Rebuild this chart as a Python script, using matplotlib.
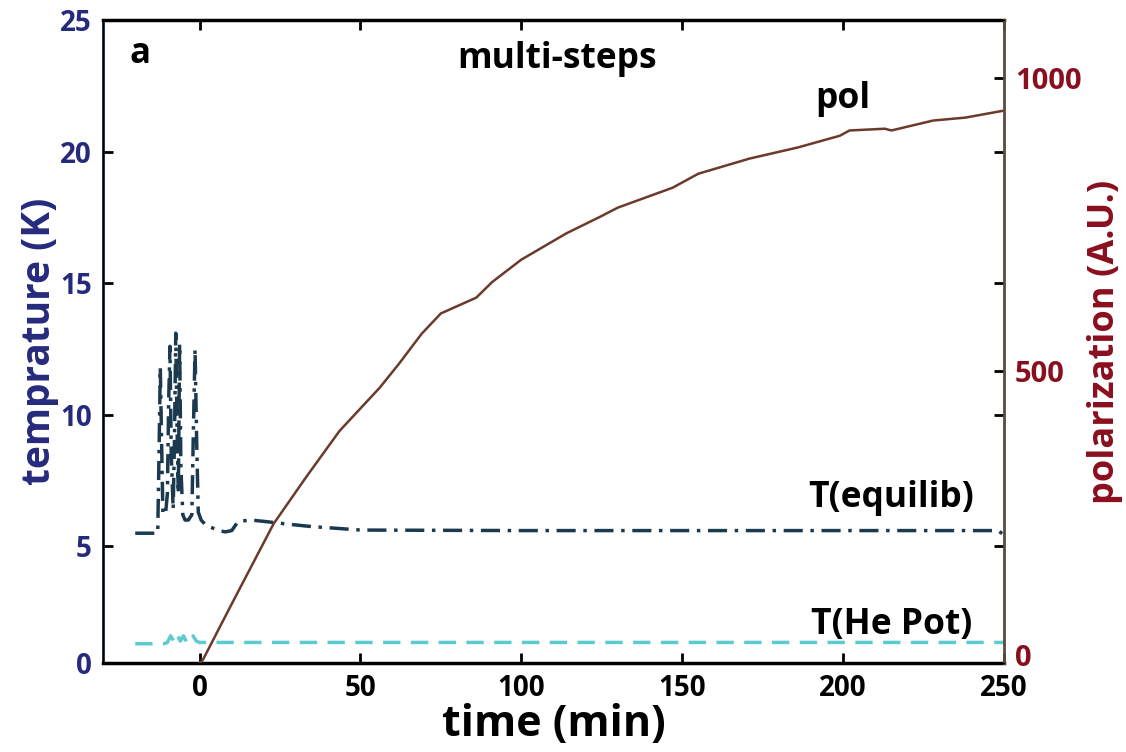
import matplotlib
matplotlib.use("Agg")
import matplotlib.pyplot as plt
import matplotlib.transforms as mtransforms

plt.rcParams['font.family'] = ['Open Sans', 'DejaVu Sans']
plt.rcParams['font.weight'] = 'bold'

# T(equilib) trace, K
teq_time = [-20, -13, -12.6, -12.2, -11.8, -11.4, -10.6, -10, -9.6, -9.2, -8.8, -8.2,
            -7.8, -7.4, -7, -6.6, -6.2, -5.8, -5.2, -4.5, -3.5, -2.4, -1.9, -1.4, -0.9,
            -0.4, 0.5, 2, 4, 6, 8, 10, 12, 16, 20, 27, 35, 41, 50, 100, 150, 200, 248, 250]
teq_temp = [5.5, 5.5, 8.5, 11.8, 9.0, 6.3, 6.2, 7.0, 10.5, 12.6, 8.5, 6.4,
            9.0, 13.1, 9.5, 7.0, 12.7, 8.0, 6.2, 6.0, 6.0, 6.2, 9.5, 12.5, 9.0,
            6.3, 6.0, 5.8, 5.7, 5.6, 5.55, 5.6, 5.95, 6.0, 5.95, 5.85, 5.75, 5.7, 5.62,
            5.6, 5.6, 5.6, 5.6, 5.45]

# T(He Pot) trace, K
the_time = [-20, -11, -10, -9, -8, -7, -6, -5, -4, -3, -2, -1, 0, 1, 250]
the_temp = [1.3, 1.3, 1.35, 1.6, 1.4, 1.65, 1.4, 1.6, 1.35, 1.35, 1.6, 1.4, 1.35, 1.35, 1.35]

# polarization, A.U.
pol_time = [0, 1, 10, 23, 33, 43.5, 56, 62, 69, 75, 86, 91, 100, 114, 124, 130,
            147, 155, 171, 186, 199, 202, 213, 215, 228, 238, 250]
pol_val = [0, 5, 101, 238, 317, 397, 471, 512, 563, 598, 625, 652, 690, 735, 762, 779,
           813, 837, 863, 882, 902, 911, 914, 911, 928, 933, 945]

x_ticks = [0, 50, 100, 150, 200, 250]
t_ticks = [5, 10, 15, 20, 25]
p_ticks = [0, 500, 1000]
t_bottom = 0.57  # the "0" label sits on the bottom edge of the frame

navy = '#262a7d'
darkred = '#8a0f1e'
brown = '#6b3a2a'

fig = plt.figure(figsize=(11.26, 7.52), dpi=100)
ax = fig.add_axes([0.0915, 0.1184, 0.8001, 0.855])
ax2 = ax.twinx()

ax.plot(teq_time, teq_temp, color='#1c3a4f', lw=2.5, dashes=(5.5, 2.2, 1, 2.2))
ax.plot(the_time, the_temp, color='#5ccbd0', lw=2.5, dashes=(5, 3))
ax2.plot(pol_time, pol_val, color=brown, lw=1.8)

ax.set_xlim(-30, 250)
ax.set_ylim(t_bottom, 25)
ax2.set_ylim(0, 1100)

ax.set_xticks(x_ticks)
ax.set_yticks([t_bottom] + t_ticks)
ax.set_yticklabels(['0'] + [str(v) for v in t_ticks])
ax2.set_yticks(p_ticks)

ax.tick_params(axis='x', direction='in', top=True, length=7, width=2,
               labelsize=20, pad=8, colors='black')
ax.tick_params(axis='y', direction='in', right=True, length=7, width=2,
               labelsize=20, labelcolor=navy, pad=8)
ax2.tick_params(axis='y', direction='in', length=7, width=2,
                labelsize=21, labelcolor=darkred, pad=8)

# lift the right-hand "0" a little so it clears the "250" below it
lift = mtransforms.ScaledTranslation(0, 6 / 72, fig.dpi_scale_trans)
zero_lbl = ax2.get_yticklabels()[0]
zero_lbl.set_transform(zero_lbl.get_transform() + lift)

for side in ['top', 'bottom']:
    ax.spines[side].set_linewidth(2.5)
ax.spines['left'].set_linewidth(2)
ax.spines['left'].set_color('#14232e')
ax2.spines['right'].set_color('#5e4a3e')
ax2.spines['right'].set_linewidth(2)

ax.set_xlabel('time (min)', fontsize=31, fontweight='bold', labelpad=0)
ax.set_ylabel('temprature (K)', fontsize=28, fontweight='bold', color=navy, labelpad=1)
ax2.set_ylabel('polarization (A.U.)', fontsize=26, fontweight='bold', color=darkred, labelpad=4)

ax.text(-18.6, 23.7, 'a', fontsize=25, fontweight='bold', ha='center', va='center')
ax.text(111, 23.5, 'multi-steps', fontsize=25.5, fontweight='bold', ha='center', va='center')
ax.text(200, 22.0, 'pol', fontsize=25.5, fontweight='bold', ha='center', va='center')
ax.text(215, 6.85, 'T(equilib)', fontsize=25.5, fontweight='bold', ha='center', va='center')
ax.text(215, 2.0, 'T(He Pot)', fontsize=25.5, fontweight='bold', ha='center', va='center')

fig.savefig('out.png', dpi=100)
